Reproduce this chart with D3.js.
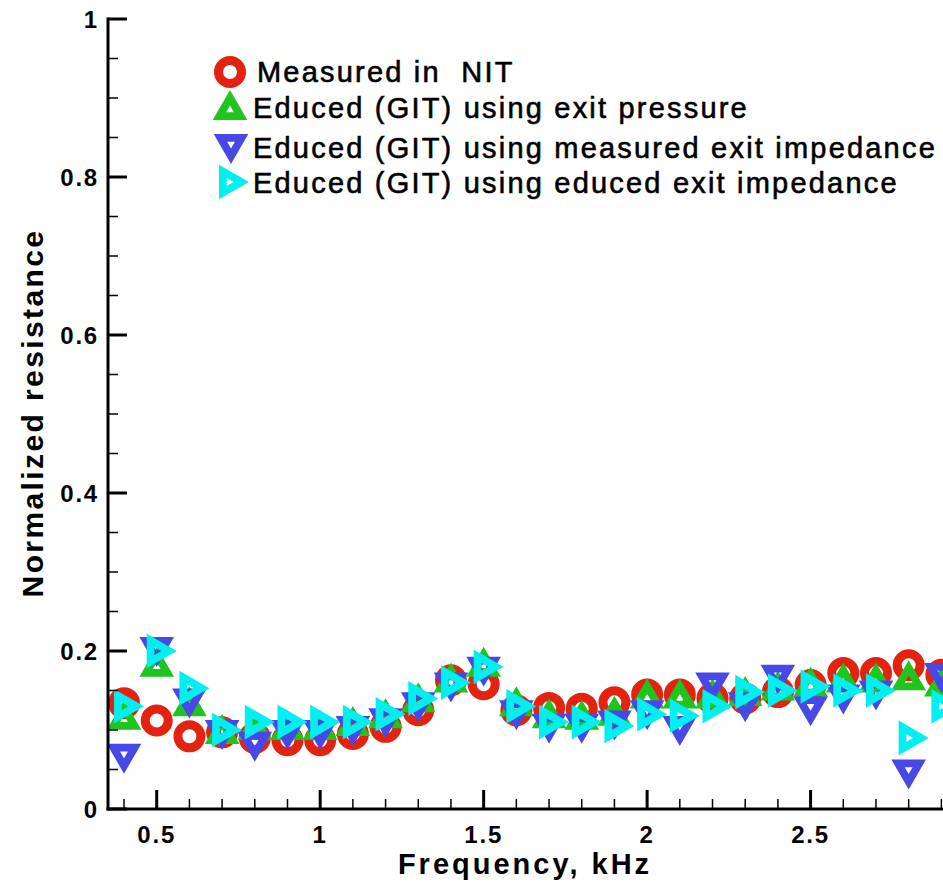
<!DOCTYPE html>
<html><head><meta charset="utf-8">
<script src="https://cdn.jsdelivr.net/npm/d3@7"></script>
<style>html,body{margin:0;padding:0;background:#fff;overflow:hidden}</style>
</head><body>
<svg id="chart" width="943" height="888"></svg>
<script>
const freq = [0.4,0.5,0.6,0.7,0.8,0.9,1.0,1.1,1.2,1.3,1.4,1.5,1.6,1.7,1.8,1.9,2.0,2.1,2.2,2.3,2.4,2.5,2.6,2.7,2.8,2.9];
const measuredNIT = [0.134,0.112,0.092,0.097,0.090,0.087,0.087,0.095,0.104,0.125,0.163,0.158,0.125,0.128,0.127,0.135,0.145,0.145,0.140,0.140,0.148,0.157,0.172,0.172,0.182,0.170];
const educedExitPressure = [0.113,0.180,0.130,0.095,0.100,0.100,0.100,0.105,0.115,0.135,0.160,0.180,0.130,0.115,0.113,0.118,0.140,0.140,0.140,0.143,0.150,0.155,0.160,0.160,0.163,0.155];
const educedMeasuredExitZ = [0.070,0.205,0.140,0.100,0.085,0.100,0.100,0.105,0.115,0.135,0.160,0.180,0.125,0.108,0.108,0.112,0.125,0.105,0.160,0.135,0.170,0.130,0.145,0.150,0.050,0.172];
const educedEducedExitZ = [0.130,0.200,0.153,0.100,0.110,0.110,0.110,0.110,0.120,0.140,0.160,0.180,0.130,0.110,0.110,0.105,0.120,0.118,0.130,0.148,0.150,0.155,0.150,0.150,0.090,0.130];
const seriesNames = ["Measured in  NIT","Educed (GIT) using exit pressure","Educed (GIT) using measured exit impedance","Educed (GIT) using educed exit impedance"];
const xTicks = [0.5,1,1.5,2,2.5];
const xTickLabels = ["0.5","1","1.5","2","2.5"];
const yTicks = [0,0.2,0.4,0.6,0.8,1];
const yTickLabels = ["0","0.2","0.4","0.6","0.8","1"];

const colors = ["#e3230f","#1fc41f","#4848e6","#00f0f0"];
const shapes = ["circle","up","down","right"];
const allSeries = [measuredNIT, educedExitPressure, educedMeasuredExitZ, educedEducedExitZ];

const svg = d3.select("#chart");
const mLeft = 108, mBottom = 809, mTop = 19, mRight = 943;
const x = d3.scaleLinear().domain([0.351, 2.905]).range([mLeft, mRight]);
const y = d3.scaleLinear().domain([0, 1]).range([mBottom, mTop]);

function markerPath(shape) {
  const p = d3.path();
  if (shape === "circle") {
    const R = 16, r = 7;
    p.moveTo(R,0); p.arc(0,0,R,0,2*Math.PI);
    p.moveTo(r,0); p.arc(0,0,r,0,2*Math.PI);
    return p.toString();
  }
  const R = 20, r = 4.5;
  let base;
  if (shape === "up") base = -Math.PI/2;
  else if (shape === "down") base = Math.PI/2;
  else base = 0;
  [R, r].forEach(rad => {
    for (let i = 0; i < 3; i++) {
      const a = base + i*2*Math.PI/3;
      const px = rad*Math.cos(a), py = rad*Math.sin(a);
      if (i === 0) p.moveTo(px,py); else p.lineTo(px,py);
    }
    p.closePath();
  });
  return p.toString();
}

svg.append("defs").append("clipPath").attr("id","plotclip")
  .append("rect").attr("x", mLeft+1).attr("y", 0).attr("width", mRight-mLeft).attr("height", mBottom);

const plot = svg.append("g").attr("clip-path","url(#plotclip)");
allSeries.forEach((vals, si) => {
  plot.append("g").selectAll("path").data(freq.map((f,i)=>[f, vals[i]])).join("path")
    .attr("d", markerPath(shapes[si]))
    .attr("fill-rule","evenodd")
    .attr("fill", colors[si])
    .attr("transform", d => `translate(${x(d[0])},${y(d[1])})`);
});

const axisG = svg.append("g");
axisG.append("line").attr("x1", mLeft).attr("x2", mLeft).attr("y1", mTop-1.5).attr("y2", mBottom+1.5)
  .attr("stroke","#000").attr("stroke-width",3);
axisG.append("line").attr("x1", mLeft-1.5).attr("x2", mRight).attr("y1", mBottom).attr("y2", mBottom)
  .attr("stroke","#000").attr("stroke-width",3);

const yMinor = d3.range(0, 1.0001, 0.05).filter(v => !yTicks.some(t => Math.abs(t-v) < 1e-6));
axisG.selectAll(".ymaj").data(yTicks).join("line").attr("class","ymaj")
  .attr("x1", mLeft).attr("x2", mLeft+19).attr("y1", d=>y(d)).attr("y2", d=>y(d))
  .attr("stroke","#000").attr("stroke-width",3);
axisG.selectAll(".ymin").data(yMinor).join("line").attr("class","ymin")
  .attr("x1", mLeft).attr("x2", mLeft+10).attr("y1", d=>y(d)).attr("y2", d=>y(d))
  .attr("stroke","#000").attr("stroke-width",1.5);
const xMinor = d3.range(0.4, 2.95, 0.1).filter(v => !xTicks.some(t => Math.abs(t-v) < 1e-6));
axisG.selectAll(".xmaj").data(xTicks).join("line").attr("class","xmaj")
  .attr("x1", d=>x(d)).attr("x2", d=>x(d)).attr("y1", mBottom).attr("y2", mBottom-19)
  .attr("stroke","#000").attr("stroke-width",3);
axisG.selectAll(".xmin").data(xMinor).join("line").attr("class","xmin")
  .attr("x1", d=>x(d)).attr("x2", d=>x(d)).attr("y1", mBottom).attr("y2", mBottom-10)
  .attr("stroke","#000").attr("stroke-width",1.5);

const font = "'Liberation Sans', Arial, Helvetica, sans-serif";
svg.append("g").selectAll("text").data(yTicks).join("text")
  .attr("x", 99).attr("y", d=>y(d)).attr("dy","0.36em")
  .attr("text-anchor","end").attr("font-family",font).attr("font-weight","bold")
  .attr("font-size",24).attr("letter-spacing",1.8)
  .text((d,i)=>yTickLabels[i]);
svg.append("g").selectAll("text").data(xTicks).join("text")
  .attr("x", d=>x(d)).attr("y", 843)
  .attr("text-anchor","middle").attr("font-family",font).attr("font-weight","bold")
  .attr("font-size",24).attr("letter-spacing",1.8)
  .text((d,i)=>xTickLabels[i]);

svg.append("text").attr("x", 525).attr("y", 874).attr("text-anchor","middle")
  .attr("font-family",font).attr("font-weight","bold").attr("font-size",29).attr("letter-spacing",3)
  .text("Frequency, kHz");
svg.append("text").attr("transform","translate(43,413) rotate(-90)").attr("text-anchor","middle")
  .attr("font-family",font).attr("font-weight","bold").attr("font-size",30).attr("letter-spacing",2.4)
  .text("Normalized resistance");

const legMarkers = [[230,72],[230,110],[231,144],[229,182]];
const legText = [[257,82],[253,118],[253,158],[253,193]];
const leg = svg.append("g");
seriesNames.forEach((name, i) => {
  leg.append("path").attr("d", markerPath(shapes[i])).attr("fill-rule","evenodd")
    .attr("fill", colors[i]).attr("transform", `translate(${legMarkers[i][0]},${legMarkers[i][1]})`);
  leg.append("text").attr("x", legText[i][0]).attr("y", legText[i][1])
    .attr("font-family",font).attr("font-size",29).attr("letter-spacing",2.2)
    .attr("stroke","#000").attr("stroke-width",0.6)
    .style("white-space","pre")
    .text(name);
});
</script>
</body></html>
